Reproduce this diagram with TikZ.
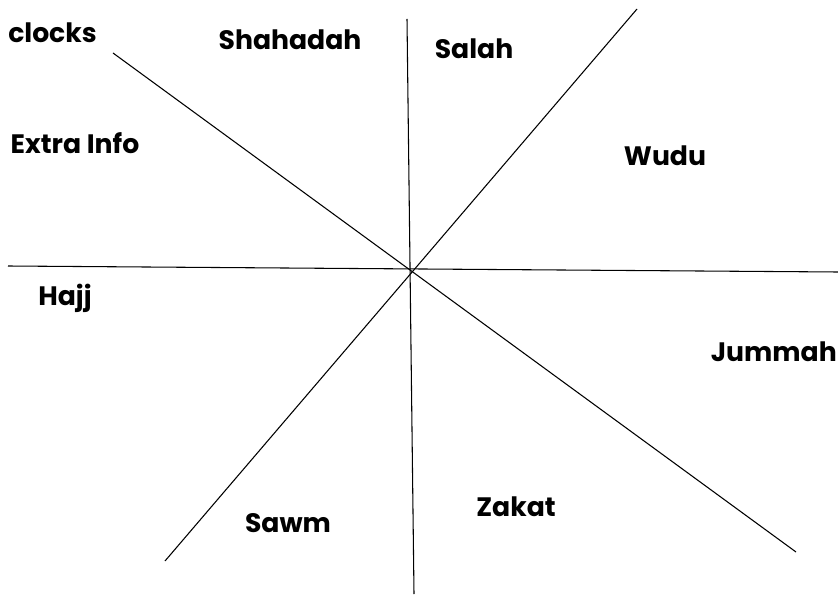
\documentclass[tikz,border=0pt]{standalone}
\usepackage{fontspec}
\setmainfont{Poppins}
\begin{document}
\begin{tikzpicture}[x=0.75pt,y=-0.75pt,
  lbl/.style={font=\fontsize{20}{24}\selectfont\bfseries, inner sep=0pt},
  ray/.style={line width=0.8pt, black}]
\useasboundingbox (0,0) rectangle (838,595);
\coordinate (vt) at (407,19);
\coordinate (vb) at (414,594);
\coordinate (hl) at (8,266);
\coordinate (hr) at (838,272);
\coordinate (dtl) at (113,53);
\coordinate (dbr) at (796,552);
\coordinate (dtr) at (637,9);
\coordinate (dbl) at (165,561);
\draw[ray] (vt) -- (vb);
\draw[ray] (hl) -- (hr);
\draw[ray] (dtl) -- (dbr);
\draw[ray] (dtr) -- (dbl);
\node[lbl, anchor=east] (clocks) at (97,33) {clocks};
\node[lbl] (shahadah) at (290,40) {Shahadah};
\node[lbl] (salah) at (474,49) {Salah};
\node[lbl] (extra) at (75,143) {Extra Info};
\node[lbl] (wudu) at (665,156) {Wudu};
\node[lbl] (hajj) at (65,298) {Hajj};
\node[lbl, anchor=east] (jummah) at (837,352) {Jummah};
\node[lbl] (zakat) at (516,507) {Zakat};
\node[lbl] (sawm) at (288,523) {Sawm};
\end{tikzpicture}
\end{document}
